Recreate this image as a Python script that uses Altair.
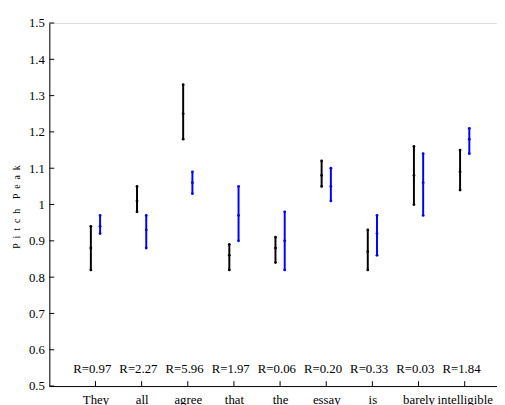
import altair as alt
import pandas as pd

words = ["They", "all", "agree", "that", "the", "essay", "is", "barely", "intelligible"]
r_labels = ["R=0.97", "R=2.27", "R=5.96", "R=1.97", "R=0.06", "R=0.20", "R=0.33", "R=0.03", "R=1.84"]

black_lo = [0.82, 0.98, 1.18, 0.82, 0.84, 1.05, 0.82, 1.00, 1.04]
black_mid = [0.88, 1.01, 1.25, 0.86, 0.88, 1.08, 0.87, 1.08, 1.09]
black_hi = [0.94, 1.05, 1.33, 0.89, 0.91, 1.12, 0.93, 1.16, 1.15]

blue_lo = [0.92, 0.88, 1.03, 0.90, 0.82, 1.01, 0.86, 0.97, 1.14]
blue_mid = [0.94, 0.93, 1.06, 0.97, 0.90, 1.05, 0.92, 1.06, 1.18]
blue_hi = [0.97, 0.97, 1.09, 1.05, 0.98, 1.10, 0.97, 1.14, 1.21]

y_ticks = [0.5, 0.6, 0.7, 0.8, 0.9, 1.0, 1.1, 1.2, 1.3, 1.4, 1.5]
x_ticks = list(range(1, 10))

W, H = 455, 369
FONT = "Liberation Serif"
FS = 13

rows = []
for i in range(9):
    rows.append({"pos": i + 1 - 0.1, "lo": black_lo[i], "mid": black_mid[i], "hi": black_hi[i], "grp": "a"})
    rows.append({"pos": i + 1 + 0.1, "lo": blue_lo[i], "mid": blue_mid[i], "hi": blue_hi[i], "grp": "b"})
df = pd.DataFrame(rows)
pts = df.melt(id_vars=["pos", "grp"], value_vars=["lo", "mid", "hi"], value_name="val")

lab = pd.DataFrame({"pos": [i + 1 - 0.07 for i in range(9)], "txt": r_labels, "yy": [0.548] * 9})
yt = pd.DataFrame({"v": y_ticks})
xt = pd.DataFrame({"p": x_ticks})

xscale = alt.Scale(domain=[0, 9.7], nice=False, zero=False)
yscale = alt.Scale(domain=[0.5, 1.5], nice=False, zero=False)
color = alt.Color("grp:N", scale=alt.Scale(domain=["a", "b"], range=["#000000", "#0000ff"]), legend=None)

labels_arr = "[" + ",".join("'" + w + "'" for w in words) + "]"

ytitle = "\u2002".join("Pitch") + "\u2002\u2002" + "\u2002".join("Peak")

xaxis = alt.Axis(values=x_ticks, labelExpr=labels_arr + "[datum.value-1]", ticks=False, grid=False,
                 domainColor="black", domainWidth=1, labelFont=FONT, labelFontSize=FS, labelColor="black",
                 labelPadding=8, title=None, labelFlush=False, labelOverlap=False)
yaxis = alt.Axis(values=y_ticks, labelExpr="datum.value == 1 ? '1' : format(datum.value, '.1f')",
                 ticks=False, grid=False, domainColor="black", domainWidth=1, labelFont=FONT,
                 labelFontSize=FS, labelColor="black", labelPadding=5, labelOverlap=False, labelFlush=False,
                 title=ytitle, titleFont=FONT, titleFontSize=10, titleFontWeight="normal",
                 titleColor="black", titleX=-33, titleY=H / 2 + 2, titleAngle=270, titleBaseline="middle", titleAlign="center")

bars = alt.Chart(df).mark_rule(strokeWidth=2).encode(
    x=alt.X("pos:Q", scale=xscale, axis=xaxis),
    y=alt.Y("lo:Q", scale=yscale, axis=yaxis),
    y2="hi:Q",
    color=color,
)
dots = alt.Chart(pts).mark_point(filled=True, size=8, opacity=1).encode(
    x=alt.X("pos:Q", scale=xscale, axis=xaxis),
    y=alt.Y("val:Q", scale=yscale, axis=yaxis),
    color=color,
)
texts = alt.Chart(lab).mark_text(font=FONT, fontSize=FS, color="black", align="center", baseline="middle").encode(
    x=alt.X("pos:Q", scale=xscale, axis=xaxis),
    y=alt.Y("yy:Q", scale=yscale, axis=yaxis),
    text="txt:N",
)
yticks = alt.Chart(yt).mark_rule(color="black", strokeWidth=1).encode(
    x=alt.value(0), x2=alt.value(5), y=alt.Y("v:Q", scale=yscale, axis=yaxis)
)
xticks = alt.Chart(xt).mark_rule(color="black", strokeWidth=1).encode(
    x=alt.X("p:Q", scale=xscale, axis=xaxis), y=alt.value(H), y2=alt.value(H - 5)
)

chart = alt.layer(bars, dots, texts, yticks, xticks).properties(
    width=W, height=H,
    autosize=alt.AutoSizeParams(type="none"),
    padding={"left": 42, "top": 12, "right": 0, "bottom": 16},
).configure_view(stroke=None).configure(background="white")

chart.save("out.html", embed_options={"renderer": "svg", "actions": False})
